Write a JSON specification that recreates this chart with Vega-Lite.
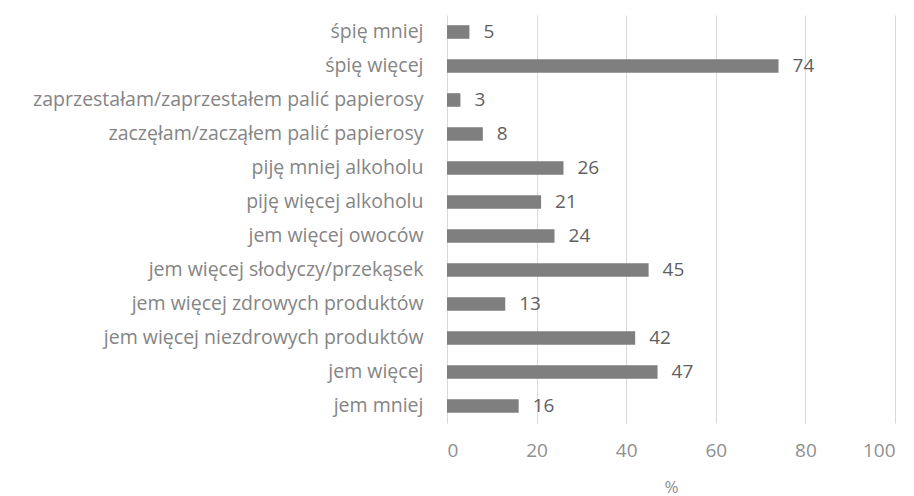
{
  "$schema": "https://vega.github.io/schema/vega-lite/v6.json",
  "width": 448,
  "height": 408,
  "autosize": "none",
  "padding": {"left": 447, "top": 15, "right": 19, "bottom": 73},
  "background": "white",
  "config": {"view": {"stroke": null}, "font": "Open Sans"},
  "data": {"values": [
    {"kat": "śpię mniej", "v": 5},
    {"kat": "śpię więcej", "v": 74},
    {"kat": "zaprzestałam/zaprzestałem palić papierosy", "v": 3},
    {"kat": "zaczęłam/zacząłem palić papierosy", "v": 8},
    {"kat": "piję mniej alkoholu", "v": 26},
    {"kat": "piję więcej alkoholu", "v": 21},
    {"kat": "jem więcej owoców", "v": 24},
    {"kat": "jem więcej słodyczy/przekąsek", "v": 45},
    {"kat": "jem więcej zdrowych produktów", "v": 13},
    {"kat": "jem więcej niezdrowych produktów", "v": 42},
    {"kat": "jem więcej", "v": 47},
    {"kat": "jem mniej", "v": 16}
  ]},
  "encoding": {
    "y": {"field": "kat", "type": "nominal", "sort": null,
      "scale": {"paddingInner": 0.6, "paddingOuter": 0.3},
      "axis": {"title": null, "domain": false, "ticks": false, "labelPadding": 24, "labelFontSize": 19.5, "labelColor": "#858585", "labelFont": "Open Sans", "labelLimit": 600}},
    "x": {"field": "v", "type": "quantitative",
      "scale": {"domain": [0, 100]},
      "axis": {"title": "%", "values": [0, 20, 40, 60, 80, 100], "domain": false, "ticks": false, "grid": true, "gridColor": "#d9d9d9", "labelPadding": 18, "labelFontSize": 19, "labelColor": "#8f8f8f", "titleFontSize": 17, "titleFontWeight": "normal", "titleColor": "#8f8f8f", "titlePadding": 19}}
  },
  "layer": [
    {"mark": {"type": "bar", "color": "#7f7f7f"}},
    {"mark": {"type": "text", "align": "left", "dx": 14, "fontSize": 19, "color": "#5f5f5f", "font": "Open Sans"},
     "encoding": {"text": {"field": "v", "type": "quantitative"}}}
  ]
}
